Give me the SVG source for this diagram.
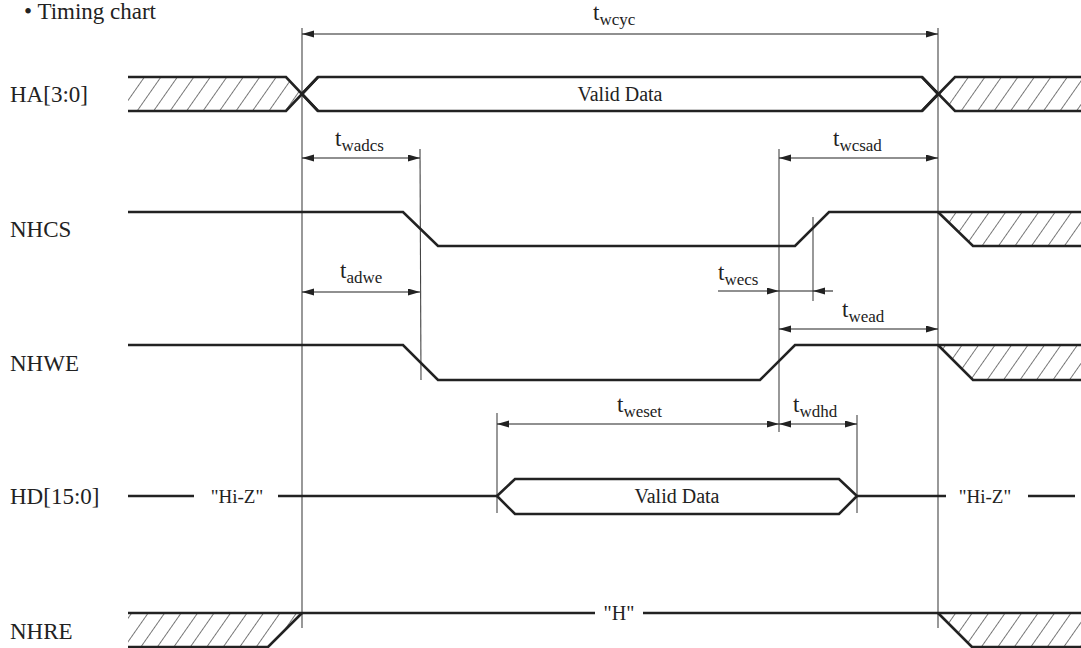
<svg xmlns="http://www.w3.org/2000/svg" width="1081" height="648" viewBox="0 0 1081 648">
<style>
text{font-family:"Liberation Serif","Times New Roman","DejaVu Serif",serif;fill:#222;}
.lbl{font-size:23px;}
.in{font-size:20px;}
.hz2{font-size:19px;}
.t{font-size:23px;}
.sub{font-size:17px;}
.sig{fill:none;stroke:#222;stroke-width:2.6;stroke-linejoin:miter;}
.hz{fill:url(#hatch);stroke:none;}
.ref{stroke:#444;stroke-width:1.1;fill:none;}
.dim{stroke:#222;stroke-width:1.1;fill:none;}
.da{marker-start:url(#ar);marker-end:url(#ar);}
.ctr{text-anchor:middle;}
</style>
<defs>
<pattern id="hatch" patternUnits="userSpaceOnUse" width="13.5" height="20" patternTransform="rotate(35)">
<line x1="0" y1="-5" x2="0" y2="25" stroke="#222" stroke-width="1.2"/>
</pattern>
<marker id="ar" markerUnits="userSpaceOnUse" markerWidth="13" markerHeight="8" refX="12" refY="3.5" orient="auto-start-reverse">
<path d="M0,0 L12,3.5 L0,7 z" fill="#222"/>
</marker>
</defs>

<text x="24" y="19" class="lbl">• Timing chart</text>

<g id="labels">
<text x="10" y="102" class="lbl">HA[3:0]</text>
<text x="10" y="237" class="lbl">NHCS</text>
<text x="10" y="371" class="lbl">NHWE</text>
<text x="10" y="504" class="lbl">HD[15:0]</text>
<text x="10" y="639" class="lbl">NHRE</text>
</g>

<g id="reference-lines">
<line class="ref" x1="302" y1="28" x2="302" y2="628"/>
<line class="ref" x1="938" y1="28" x2="938" y2="628"/>
<line class="ref" x1="420" y1="149" x2="421" y2="380"/>
<line class="ref" x1="779" y1="149" x2="779" y2="432"/>
<line class="ref" x1="813" y1="217" x2="813" y2="301"/>
<line class="ref" x1="497" y1="413" x2="497" y2="513"/>
<line class="ref" x1="857" y1="415" x2="857" y2="513"/>
</g>

<g id="HA">
<path class="hz" d="M128,77 H286 L302,94 L286,111 H128 Z"/>
<path class="sig" d="M128,77 H286 L318,111"/>
<path class="sig" d="M128,111 H286 L318,77"/>
<path class="sig" d="M302,94 L318,77 H922 L938,94 L922,111 H318 Z"/>
<path class="hz" d="M1081,77 H955 L938,94 L955,111 H1081 Z"/>
<path class="sig" d="M922,77 L955,111 H1081"/>
<path class="sig" d="M922,111 L955,77 H1081"/>
<text x="620" y="101" class="in ctr">Valid Data</text>
</g>

<g id="NHCS">
<path class="sig" d="M128,212 H403 L438,246 H795 L829,212 H1081"/>
<path class="hz" d="M938,212 H1081 V246 H973 Z"/>
<path class="sig" d="M938,212 L973,246 H1081"/>
</g>

<g id="NHWE">
<path class="sig" d="M128,345 H403 L438,380 H760 L795,345 H1081"/>
<path class="hz" d="M938,345 H1081 V380 H973 Z"/>
<path class="sig" d="M938,345 L973,380 H1081"/>
</g>

<g id="HD">
<path class="sig" d="M128,496 H194"/>
<text x="237" y="503" class="hz2 ctr">"Hi-Z"</text>
<path class="sig" d="M278,496 H497"/>
<path class="sig" d="M497,496 L515,479 H839 L857,496 L839,514 H515 Z"/>
<text x="677" y="503" class="in ctr">Valid Data</text>
<path class="sig" d="M857,496 H946"/>
<text x="985" y="503" class="hz2 ctr">"Hi-Z"</text>
<path class="sig" d="M1028,496 H1075"/>
</g>

<g id="NHRE">
<path class="hz" d="M128,613 H302 L268,647 H128 Z"/>
<path class="sig" d="M128,647 H268 L302,613"/>
<path class="sig" d="M128,613 H595"/>
<text x="619" y="620" class="in ctr">"H"</text>
<path class="sig" d="M643,613 H1081"/>
<path class="hz" d="M938,613 H1081 V647 H972 Z"/>
<path class="sig" d="M938,613 L972,647 H1081"/>
</g>

<g id="connectors">
<line class="dim da" x1="302" y1="34" x2="938" y2="34"/>
<line class="dim da" x1="302" y1="158" x2="420" y2="158"/>
<line class="dim da" x1="779" y1="158" x2="938" y2="158"/>
<line class="dim da" x1="302" y1="292" x2="420" y2="292"/>
<line class="dim" x1="718" y1="291" x2="779" y2="291" marker-end="url(#ar)"/>
<line class="dim" x1="779" y1="291" x2="813" y2="291"/>
<line class="dim" x1="813" y1="291" x2="833" y2="291" marker-start="url(#ar)"/>
<line class="dim da" x1="779" y1="329" x2="938" y2="329"/>
<line class="dim da" x1="497" y1="424" x2="779" y2="424"/>
<line class="dim da" x1="779" y1="424" x2="857" y2="424"/>
</g>

<g id="dim-labels">
<text x="593" y="20" class="t">t<tspan class="sub" dy="5">wcyc</tspan></text>
<text x="335" y="146" class="t">t<tspan class="sub" dy="5">wadcs</tspan></text>
<text x="833" y="146" class="t">t<tspan class="sub" dy="5">wcsad</tspan></text>
<text x="340" y="278" class="t">t<tspan class="sub" dy="5">adwe</tspan></text>
<text x="718" y="280" class="t">t<tspan class="sub" dy="5">wecs</tspan></text>
<text x="842" y="317" class="t">t<tspan class="sub" dy="5">wead</tspan></text>
<text x="617" y="412" class="t">t<tspan class="sub" dy="5">weset</tspan></text>
<text x="793" y="412" class="t">t<tspan class="sub" dy="5">wdhd</tspan></text>
</g>
</svg>
